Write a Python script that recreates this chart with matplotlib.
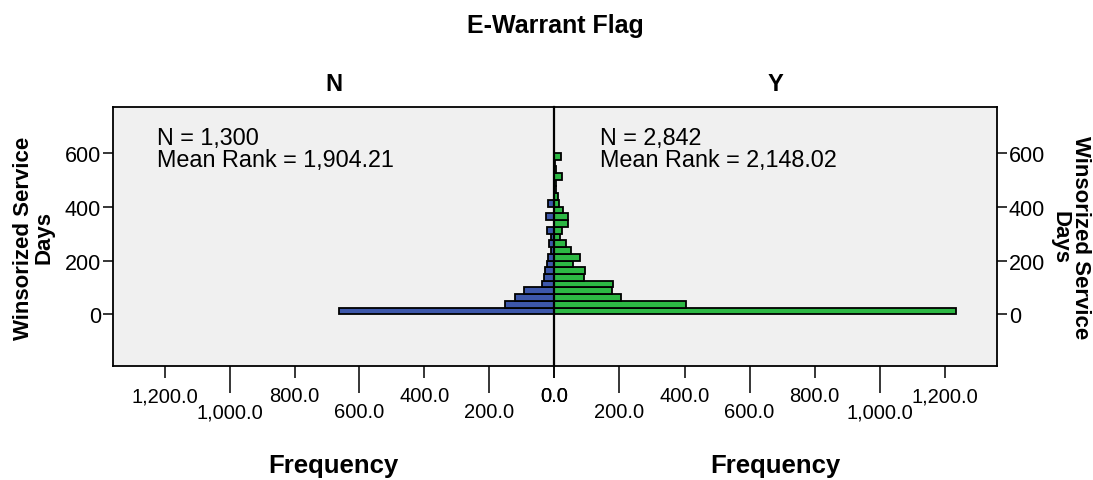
import matplotlib
matplotlib.use("Agg")
import matplotlib.pyplot as plt
from matplotlib.ticker import FixedLocator, FuncFormatter

plt.rcParams['font.family'] = ['Liberation Sans', 'DejaVu Sans']

# ---- data ----
bin_lower = [0, 25, 50, 75, 100, 125, 150, 175, 200, 225, 250, 275,
             300, 325, 350, 375, 400, 425, 450, 475, 500, 525, 550, 575]
bin_width = 25
freq_N = [662, 153, 122, 93, 39, 33, 29, 22, 18, 11, 15, 11,
          22, 2, 26, 2, 18, 0, 0, 0, 0, 0, 0, 0]
freq_Y = [1233, 406, 204, 177, 180, 91, 93, 56, 78, 52, 37, 18,
          25, 43, 42, 26, 14, 12, 6, 5, 23, 4, 3, 21]
panel_labels = ["N", "Y"]
stats_text = [("N = 1,300", "Mean Rank = 1,904.21"),
              ("N = 2,842", "Mean Rank = 2,148.02")]
y_ticks = [0, 200, 400, 600]
x_major = [0, 400, 800, 1200]
x_minor = [200, 600, 1000]

W, H = 1093, 481
fig = plt.figure(figsize=(W / 100, H / 100), dpi=100)
fig.patch.set_facecolor('white')

x_left, x_mid, x_right = 112.7, 554.3, 997.0
y_top, y_bot = 107.5, 366.5

def fx(px):
    return px / W

def fy(py):
    return 1 - py / H

axL = fig.add_axes([fx(x_left), fy(y_bot), fx(x_mid - x_left), (y_bot - y_top) / H])
axR = fig.add_axes([fx(x_mid), fy(y_bot), fx(x_right - x_mid), (y_bot - y_top) / H])

blue = '#3D57AA'
green = '#2DB844'
bg = '#F0F0F0'

axL.barh(bin_lower, freq_N, height=bin_width, align='edge', color=blue,
         edgecolor='black', linewidth=1.3, zorder=2)
axR.barh(bin_lower, freq_Y, height=bin_width, align='edge', color=green,
         edgecolor='black', linewidth=1.3, zorder=2)

xmax = 1360
ylim = (-190, 772)
axL.set_xlim(xmax, 0)
axR.set_xlim(0, xmax)
for ax in (axL, axR):
    ax.set_ylim(*ylim)
    ax.set_facecolor(bg)
    for s in ax.spines.values():
        s.set_linewidth(1.3)
        s.set_color('black')
    ax.xaxis.set_major_locator(FixedLocator(x_major))
    ax.xaxis.set_minor_locator(FixedLocator(x_minor))
    fmt = FuncFormatter(lambda v, p: f"{v:,.1f}")
    ax.xaxis.set_major_formatter(fmt)
    ax.xaxis.set_minor_formatter(fmt)
    ax.tick_params(axis='x', which='major', length=8.6, width=1.1, pad=6.5,
                   labelsize=14.5, direction='out')
    ax.tick_params(axis='x', which='minor', length=19.5, width=1.1, pad=7,
                   labelsize=14.5, direction='out')
    ax.set_yticks(y_ticks)
    ax.tick_params(axis='y', length=7.5, width=1.1, pad=1, labelsize=15.5)

axL.spines['right'].set_visible(False)
axR.spines['left'].set_linewidth(1.6)
axL.yaxis.tick_left()
axR.yaxis.tick_right()

# panel stats text
fs_stat = 16.8
fig.text(fx(157), fy(138), stats_text[0][0], fontsize=fs_stat, va='center', ha='left')
fig.text(fx(157), fy(161), stats_text[0][1], fontsize=fs_stat, va='center', ha='left')
fig.text(fx(600), fy(138), stats_text[1][0], fontsize=fs_stat, va='center', ha='left')
fig.text(fx(600), fy(161), stats_text[1][1], fontsize=fs_stat, va='center', ha='left')

# titles
fig.text(fx(555), fy(26), "E-Warrant Flag", fontsize=18, fontweight='bold',
         ha='center', va='center')
fig.text(fx((x_left + x_mid) / 2), fy(85), panel_labels[0], fontsize=17,
         fontweight='bold', ha='center', va='center')
fig.text(fx((x_mid + x_right) / 2), fy(85), panel_labels[1], fontsize=17,
         fontweight='bold', ha='center', va='center')

# x labels
fig.text(fx((x_left + x_mid) / 2), fy(466), "Frequency", fontsize=18.5,
         fontweight='bold', ha='center', va='center')
fig.text(fx((x_mid + x_right) / 2), fy(466), "Frequency", fontsize=18.5,
         fontweight='bold', ha='center', va='center')

# y labels
fig.text(fx(34), fy(238), "Winsorized Service\nDays", fontsize=16,
         fontweight='bold', ha='center', va='center', rotation=90,
         linespacing=0.95, multialignment='center')
fig.text(fx(1070), fy(238), "Winsorized Service\nDays", fontsize=16,
         fontweight='bold', ha='center', va='center', rotation=-90,
         linespacing=0.95, multialignment='center')

fig.savefig("out.png", dpi=100, facecolor='white')
